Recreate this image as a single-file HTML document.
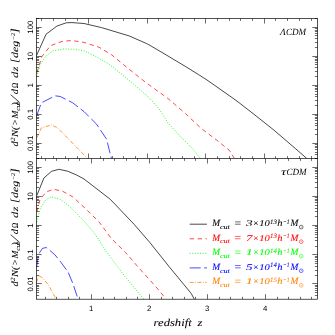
<!DOCTYPE html>
<html><head><meta charset="utf-8"><style>
html,body{margin:0;padding:0;background:#fff;}
svg{display:block;text-rendering:geometricPrecision;will-change:transform;font-family:"Liberation Sans",sans-serif;}
</style></head><body>
<svg width="335" height="335" viewBox="0 0 335 335">

<clipPath id="ct"><rect x="36.5" y="18.5" width="281.0" height="140.0"/></clipPath>
<clipPath id="cb"><rect x="36.5" y="158.5" width="281.0" height="140.7"/></clipPath>
<path d="M36.5,55.5 L46.1,34.2 L56.9,26.1 L66.2,22.8 L72.0,22.6 L84.0,23.5 L101.5,27.6 L129.1,35.9 L146.7,43.6 L150.0,45.4 L168.0,56.0 L185.8,66.7 L198.4,74.5 L207.0,80.0 L222.0,90.5 L237.0,101.1 L255.0,115.1 L274.0,130.2 L295.8,148.9 L306.8,158.5" fill="none" stroke="#000" stroke-width="0.72" clip-path="url(#ct)"/>
<path d="M36.8,72.7 L41.8,56.8 L50.5,45.7 L62.0,41.4 L72.0,40.5 L84.0,42.4 L99.0,47.2 L111.6,54.8 L126.6,67.2 L145.4,82.2 L168.0,98.5 L185.5,113.6 L200.6,127.9 L218.1,141.2 L229.4,150.4 L234.4,158.5" fill="none" stroke="#ff0000" stroke-width="0.72" stroke-dasharray="4.4 3.5" clip-path="url(#ct)"/>
<path d="M36.8,76.5 L40.3,64.3 L45.6,56.3 L53.0,50.8 L64.0,49.0 L74.0,49.3 L84.0,50.8 L96.5,56.8 L109.1,64.2 L121.6,74.0 L132.9,83.6 L149.2,97.8 L159.2,109.1 L168.0,122.9 L180.5,136.6 L193.1,149.2 L200.4,158.5" fill="none" stroke="#00ff00" stroke-width="0.95" stroke-dasharray="0.9 1.7" clip-path="url(#ct)"/>
<path d="M36.8,115.3 L41.4,102.8 L55.2,95.8 L60.2,96.5 L72.7,102.8 L84.0,111.6 L96.5,124.1 L106.6,139.2 L110.3,154.2 L111.6,158.5" fill="none" stroke="#0000ff" stroke-width="0.72" stroke-dasharray="11 3.5" clip-path="url(#ct)"/>
<path d="M36.8,137.9 L41.4,127.9 L51.4,124.9 L57.7,127.9 L67.7,138.2 L84.0,154.9 L87.5,158.5" fill="none" stroke="#ff8000" stroke-width="0.8" stroke-dasharray="4 1.5 0.8 1.5" clip-path="url(#ct)"/>
<path d="M36.8,195.6 L43.9,178.0 L51.4,171.4 L58.9,169.3 L67.7,171.2 L76.6,175.0 L84.0,179.0 L110.3,199.3 L134.2,224.4 L150.0,242.7 L169.1,266.6 L191.1,293.3 L194.3,299.2" fill="none" stroke="#000" stroke-width="0.72" clip-path="url(#cb)"/>
<path d="M36.8,211.9 L40.1,199.3 L46.4,191.8 L53.9,189.3 L62.7,191.3 L72.7,196.8 L84.0,207.2 L99.0,221.9 L111.6,238.8 L125.4,252.3 L139.2,268.3 L151.7,282.1 L160.5,292.1 L166.0,299.2" fill="none" stroke="#ff0000" stroke-width="0.72" stroke-dasharray="4.4 3.5" clip-path="url(#cb)"/>
<path d="M36.8,221.9 L40.1,209.4 L45.1,200.6 L51.4,196.8 L60.2,199.3 L70.2,206.9 L84.0,221.0 L94.4,233.2 L106.2,251.5 L116.6,265.4 L125.4,277.0 L134.2,287.6 L143.8,299.2" fill="none" stroke="#00ff00" stroke-width="0.95" stroke-dasharray="0.9 1.7" clip-path="url(#cb)"/>
<path d="M36.5,267.5 L38.6,254.2 L42.4,248.4 L46.2,247.5 L49.1,249.8 L54.8,254.7 L60.6,261.8 L68.2,272.3 L73.0,283.8 L77.4,297.1 L78.1,299.2" fill="none" stroke="#0000ff" stroke-width="0.72" stroke-dasharray="11 3.5" clip-path="url(#cb)"/>
<path d="M36.5,282.5 L38.6,275.7 L41.5,277.1 L47.7,283.8 L52.6,292.4 L56.1,299.2" fill="none" stroke="#ff8000" stroke-width="0.8" stroke-dasharray="4 1.5 0.8 1.5" clip-path="url(#cb)"/>
<rect x="36.5" y="18.5" width="281.0" height="280.7" fill="none" stroke="#000" stroke-width="0.68"/>
<line x1="36.5" y1="158.5" x2="317.5" y2="158.5" stroke="#000" stroke-width="0.68"/>
<line x1="41.50" y1="18.50" x2="41.50" y2="20.90" stroke="#000" stroke-width="0.58"/>
<line x1="41.50" y1="158.50" x2="41.50" y2="156.10" stroke="#000" stroke-width="0.58"/>
<line x1="53.50" y1="18.50" x2="53.50" y2="20.90" stroke="#000" stroke-width="0.58"/>
<line x1="53.50" y1="158.50" x2="53.50" y2="156.10" stroke="#000" stroke-width="0.58"/>
<line x1="65.50" y1="18.50" x2="65.50" y2="20.90" stroke="#000" stroke-width="0.58"/>
<line x1="65.50" y1="158.50" x2="65.50" y2="156.10" stroke="#000" stroke-width="0.58"/>
<line x1="77.50" y1="18.50" x2="77.50" y2="20.90" stroke="#000" stroke-width="0.58"/>
<line x1="77.50" y1="158.50" x2="77.50" y2="156.10" stroke="#000" stroke-width="0.58"/>
<line x1="88.50" y1="18.50" x2="88.50" y2="23.50" stroke="#000" stroke-width="0.58"/>
<line x1="88.50" y1="158.50" x2="88.50" y2="153.50" stroke="#000" stroke-width="0.58"/>
<line x1="100.50" y1="18.50" x2="100.50" y2="20.90" stroke="#000" stroke-width="0.58"/>
<line x1="100.50" y1="158.50" x2="100.50" y2="156.10" stroke="#000" stroke-width="0.58"/>
<line x1="112.50" y1="18.50" x2="112.50" y2="20.90" stroke="#000" stroke-width="0.58"/>
<line x1="112.50" y1="158.50" x2="112.50" y2="156.10" stroke="#000" stroke-width="0.58"/>
<line x1="123.50" y1="18.50" x2="123.50" y2="20.90" stroke="#000" stroke-width="0.58"/>
<line x1="123.50" y1="158.50" x2="123.50" y2="156.10" stroke="#000" stroke-width="0.58"/>
<line x1="135.50" y1="18.50" x2="135.50" y2="20.90" stroke="#000" stroke-width="0.58"/>
<line x1="135.50" y1="158.50" x2="135.50" y2="156.10" stroke="#000" stroke-width="0.58"/>
<line x1="147.50" y1="18.50" x2="147.50" y2="23.50" stroke="#000" stroke-width="0.58"/>
<line x1="147.50" y1="158.50" x2="147.50" y2="153.50" stroke="#000" stroke-width="0.58"/>
<line x1="158.50" y1="18.50" x2="158.50" y2="20.90" stroke="#000" stroke-width="0.58"/>
<line x1="158.50" y1="158.50" x2="158.50" y2="156.10" stroke="#000" stroke-width="0.58"/>
<line x1="170.50" y1="18.50" x2="170.50" y2="20.90" stroke="#000" stroke-width="0.58"/>
<line x1="170.50" y1="158.50" x2="170.50" y2="156.10" stroke="#000" stroke-width="0.58"/>
<line x1="182.50" y1="18.50" x2="182.50" y2="20.90" stroke="#000" stroke-width="0.58"/>
<line x1="182.50" y1="158.50" x2="182.50" y2="156.10" stroke="#000" stroke-width="0.58"/>
<line x1="194.50" y1="18.50" x2="194.50" y2="20.90" stroke="#000" stroke-width="0.58"/>
<line x1="194.50" y1="158.50" x2="194.50" y2="156.10" stroke="#000" stroke-width="0.58"/>
<line x1="205.50" y1="18.50" x2="205.50" y2="23.50" stroke="#000" stroke-width="0.58"/>
<line x1="205.50" y1="158.50" x2="205.50" y2="153.50" stroke="#000" stroke-width="0.58"/>
<line x1="217.50" y1="18.50" x2="217.50" y2="20.90" stroke="#000" stroke-width="0.58"/>
<line x1="217.50" y1="158.50" x2="217.50" y2="156.10" stroke="#000" stroke-width="0.58"/>
<line x1="229.50" y1="18.50" x2="229.50" y2="20.90" stroke="#000" stroke-width="0.58"/>
<line x1="229.50" y1="158.50" x2="229.50" y2="156.10" stroke="#000" stroke-width="0.58"/>
<line x1="240.50" y1="18.50" x2="240.50" y2="20.90" stroke="#000" stroke-width="0.58"/>
<line x1="240.50" y1="158.50" x2="240.50" y2="156.10" stroke="#000" stroke-width="0.58"/>
<line x1="252.50" y1="18.50" x2="252.50" y2="20.90" stroke="#000" stroke-width="0.58"/>
<line x1="252.50" y1="158.50" x2="252.50" y2="156.10" stroke="#000" stroke-width="0.58"/>
<line x1="264.50" y1="18.50" x2="264.50" y2="23.50" stroke="#000" stroke-width="0.58"/>
<line x1="264.50" y1="158.50" x2="264.50" y2="153.50" stroke="#000" stroke-width="0.58"/>
<line x1="275.50" y1="18.50" x2="275.50" y2="20.90" stroke="#000" stroke-width="0.58"/>
<line x1="275.50" y1="158.50" x2="275.50" y2="156.10" stroke="#000" stroke-width="0.58"/>
<line x1="287.50" y1="18.50" x2="287.50" y2="20.90" stroke="#000" stroke-width="0.58"/>
<line x1="287.50" y1="158.50" x2="287.50" y2="156.10" stroke="#000" stroke-width="0.58"/>
<line x1="299.50" y1="18.50" x2="299.50" y2="20.90" stroke="#000" stroke-width="0.58"/>
<line x1="299.50" y1="158.50" x2="299.50" y2="156.10" stroke="#000" stroke-width="0.58"/>
<line x1="311.50" y1="18.50" x2="311.50" y2="20.90" stroke="#000" stroke-width="0.58"/>
<line x1="311.50" y1="158.50" x2="311.50" y2="156.10" stroke="#000" stroke-width="0.58"/>
<line x1="45.50" y1="158.50" x2="45.50" y2="160.90" stroke="#000" stroke-width="0.58"/>
<line x1="45.50" y1="299.20" x2="45.50" y2="296.80" stroke="#000" stroke-width="0.58"/>
<line x1="56.50" y1="158.50" x2="56.50" y2="160.90" stroke="#000" stroke-width="0.58"/>
<line x1="56.50" y1="299.20" x2="56.50" y2="296.80" stroke="#000" stroke-width="0.58"/>
<line x1="68.50" y1="158.50" x2="68.50" y2="160.90" stroke="#000" stroke-width="0.58"/>
<line x1="68.50" y1="299.20" x2="68.50" y2="296.80" stroke="#000" stroke-width="0.58"/>
<line x1="79.50" y1="158.50" x2="79.50" y2="160.90" stroke="#000" stroke-width="0.58"/>
<line x1="79.50" y1="299.20" x2="79.50" y2="296.80" stroke="#000" stroke-width="0.58"/>
<line x1="91.50" y1="158.50" x2="91.50" y2="163.50" stroke="#000" stroke-width="0.58"/>
<line x1="91.50" y1="299.20" x2="91.50" y2="294.20" stroke="#000" stroke-width="0.58"/>
<line x1="103.50" y1="158.50" x2="103.50" y2="160.90" stroke="#000" stroke-width="0.58"/>
<line x1="103.50" y1="299.20" x2="103.50" y2="296.80" stroke="#000" stroke-width="0.58"/>
<line x1="114.50" y1="158.50" x2="114.50" y2="160.90" stroke="#000" stroke-width="0.58"/>
<line x1="114.50" y1="299.20" x2="114.50" y2="296.80" stroke="#000" stroke-width="0.58"/>
<line x1="126.50" y1="158.50" x2="126.50" y2="160.90" stroke="#000" stroke-width="0.58"/>
<line x1="126.50" y1="299.20" x2="126.50" y2="296.80" stroke="#000" stroke-width="0.58"/>
<line x1="137.50" y1="158.50" x2="137.50" y2="160.90" stroke="#000" stroke-width="0.58"/>
<line x1="137.50" y1="299.20" x2="137.50" y2="296.80" stroke="#000" stroke-width="0.58"/>
<line x1="149.50" y1="158.50" x2="149.50" y2="163.50" stroke="#000" stroke-width="0.58"/>
<line x1="149.50" y1="299.20" x2="149.50" y2="294.20" stroke="#000" stroke-width="0.58"/>
<line x1="161.50" y1="158.50" x2="161.50" y2="160.90" stroke="#000" stroke-width="0.58"/>
<line x1="161.50" y1="299.20" x2="161.50" y2="296.80" stroke="#000" stroke-width="0.58"/>
<line x1="172.50" y1="158.50" x2="172.50" y2="160.90" stroke="#000" stroke-width="0.58"/>
<line x1="172.50" y1="299.20" x2="172.50" y2="296.80" stroke="#000" stroke-width="0.58"/>
<line x1="184.50" y1="158.50" x2="184.50" y2="160.90" stroke="#000" stroke-width="0.58"/>
<line x1="184.50" y1="299.20" x2="184.50" y2="296.80" stroke="#000" stroke-width="0.58"/>
<line x1="195.50" y1="158.50" x2="195.50" y2="160.90" stroke="#000" stroke-width="0.58"/>
<line x1="195.50" y1="299.20" x2="195.50" y2="296.80" stroke="#000" stroke-width="0.58"/>
<line x1="207.50" y1="158.50" x2="207.50" y2="163.50" stroke="#000" stroke-width="0.58"/>
<line x1="207.50" y1="299.20" x2="207.50" y2="294.20" stroke="#000" stroke-width="0.58"/>
<line x1="219.50" y1="158.50" x2="219.50" y2="160.90" stroke="#000" stroke-width="0.58"/>
<line x1="219.50" y1="299.20" x2="219.50" y2="296.80" stroke="#000" stroke-width="0.58"/>
<line x1="230.50" y1="158.50" x2="230.50" y2="160.90" stroke="#000" stroke-width="0.58"/>
<line x1="230.50" y1="299.20" x2="230.50" y2="296.80" stroke="#000" stroke-width="0.58"/>
<line x1="242.50" y1="158.50" x2="242.50" y2="160.90" stroke="#000" stroke-width="0.58"/>
<line x1="242.50" y1="299.20" x2="242.50" y2="296.80" stroke="#000" stroke-width="0.58"/>
<line x1="253.50" y1="158.50" x2="253.50" y2="160.90" stroke="#000" stroke-width="0.58"/>
<line x1="253.50" y1="299.20" x2="253.50" y2="296.80" stroke="#000" stroke-width="0.58"/>
<line x1="265.50" y1="158.50" x2="265.50" y2="163.50" stroke="#000" stroke-width="0.58"/>
<line x1="265.50" y1="299.20" x2="265.50" y2="294.20" stroke="#000" stroke-width="0.58"/>
<line x1="277.50" y1="158.50" x2="277.50" y2="160.90" stroke="#000" stroke-width="0.58"/>
<line x1="277.50" y1="299.20" x2="277.50" y2="296.80" stroke="#000" stroke-width="0.58"/>
<line x1="288.50" y1="158.50" x2="288.50" y2="160.90" stroke="#000" stroke-width="0.58"/>
<line x1="288.50" y1="299.20" x2="288.50" y2="296.80" stroke="#000" stroke-width="0.58"/>
<line x1="300.50" y1="158.50" x2="300.50" y2="160.90" stroke="#000" stroke-width="0.58"/>
<line x1="300.50" y1="299.20" x2="300.50" y2="296.80" stroke="#000" stroke-width="0.58"/>
<line x1="311.50" y1="158.50" x2="311.50" y2="160.90" stroke="#000" stroke-width="0.58"/>
<line x1="311.50" y1="299.20" x2="311.50" y2="296.80" stroke="#000" stroke-width="0.58"/>
<line x1="36.50" y1="158.50" x2="39.10" y2="158.50" stroke="#000" stroke-width="0.58"/>
<line x1="317.50" y1="158.50" x2="314.90" y2="158.50" stroke="#000" stroke-width="0.58"/>
<line x1="36.50" y1="154.50" x2="39.10" y2="154.50" stroke="#000" stroke-width="0.58"/>
<line x1="317.50" y1="154.50" x2="314.90" y2="154.50" stroke="#000" stroke-width="0.58"/>
<line x1="36.50" y1="152.50" x2="39.10" y2="152.50" stroke="#000" stroke-width="0.58"/>
<line x1="317.50" y1="152.50" x2="314.90" y2="152.50" stroke="#000" stroke-width="0.58"/>
<line x1="36.50" y1="149.50" x2="39.10" y2="149.50" stroke="#000" stroke-width="0.58"/>
<line x1="317.50" y1="149.50" x2="314.90" y2="149.50" stroke="#000" stroke-width="0.58"/>
<line x1="36.50" y1="147.50" x2="39.10" y2="147.50" stroke="#000" stroke-width="0.58"/>
<line x1="317.50" y1="147.50" x2="314.90" y2="147.50" stroke="#000" stroke-width="0.58"/>
<line x1="36.50" y1="146.50" x2="39.10" y2="146.50" stroke="#000" stroke-width="0.58"/>
<line x1="317.50" y1="146.50" x2="314.90" y2="146.50" stroke="#000" stroke-width="0.58"/>
<line x1="36.50" y1="144.50" x2="39.10" y2="144.50" stroke="#000" stroke-width="0.58"/>
<line x1="317.50" y1="144.50" x2="314.90" y2="144.50" stroke="#000" stroke-width="0.58"/>
<line x1="36.50" y1="143.50" x2="41.70" y2="143.50" stroke="#000" stroke-width="0.58"/>
<line x1="317.50" y1="143.50" x2="312.30" y2="143.50" stroke="#000" stroke-width="0.58"/>
<line x1="36.50" y1="134.50" x2="39.10" y2="134.50" stroke="#000" stroke-width="0.58"/>
<line x1="317.50" y1="134.50" x2="314.90" y2="134.50" stroke="#000" stroke-width="0.58"/>
<line x1="36.50" y1="129.50" x2="39.10" y2="129.50" stroke="#000" stroke-width="0.58"/>
<line x1="317.50" y1="129.50" x2="314.90" y2="129.50" stroke="#000" stroke-width="0.58"/>
<line x1="36.50" y1="125.50" x2="39.10" y2="125.50" stroke="#000" stroke-width="0.58"/>
<line x1="317.50" y1="125.50" x2="314.90" y2="125.50" stroke="#000" stroke-width="0.58"/>
<line x1="36.50" y1="123.50" x2="39.10" y2="123.50" stroke="#000" stroke-width="0.58"/>
<line x1="317.50" y1="123.50" x2="314.90" y2="123.50" stroke="#000" stroke-width="0.58"/>
<line x1="36.50" y1="120.50" x2="39.10" y2="120.50" stroke="#000" stroke-width="0.58"/>
<line x1="317.50" y1="120.50" x2="314.90" y2="120.50" stroke="#000" stroke-width="0.58"/>
<line x1="36.50" y1="118.50" x2="39.10" y2="118.50" stroke="#000" stroke-width="0.58"/>
<line x1="317.50" y1="118.50" x2="314.90" y2="118.50" stroke="#000" stroke-width="0.58"/>
<line x1="36.50" y1="117.50" x2="39.10" y2="117.50" stroke="#000" stroke-width="0.58"/>
<line x1="317.50" y1="117.50" x2="314.90" y2="117.50" stroke="#000" stroke-width="0.58"/>
<line x1="36.50" y1="115.50" x2="39.10" y2="115.50" stroke="#000" stroke-width="0.58"/>
<line x1="317.50" y1="115.50" x2="314.90" y2="115.50" stroke="#000" stroke-width="0.58"/>
<line x1="36.50" y1="114.50" x2="41.70" y2="114.50" stroke="#000" stroke-width="0.58"/>
<line x1="317.50" y1="114.50" x2="312.30" y2="114.50" stroke="#000" stroke-width="0.58"/>
<line x1="36.50" y1="105.50" x2="39.10" y2="105.50" stroke="#000" stroke-width="0.58"/>
<line x1="317.50" y1="105.50" x2="314.90" y2="105.50" stroke="#000" stroke-width="0.58"/>
<line x1="36.50" y1="100.50" x2="39.10" y2="100.50" stroke="#000" stroke-width="0.58"/>
<line x1="317.50" y1="100.50" x2="314.90" y2="100.50" stroke="#000" stroke-width="0.58"/>
<line x1="36.50" y1="96.50" x2="39.10" y2="96.50" stroke="#000" stroke-width="0.58"/>
<line x1="317.50" y1="96.50" x2="314.90" y2="96.50" stroke="#000" stroke-width="0.58"/>
<line x1="36.50" y1="94.50" x2="39.10" y2="94.50" stroke="#000" stroke-width="0.58"/>
<line x1="317.50" y1="94.50" x2="314.90" y2="94.50" stroke="#000" stroke-width="0.58"/>
<line x1="36.50" y1="91.50" x2="39.10" y2="91.50" stroke="#000" stroke-width="0.58"/>
<line x1="317.50" y1="91.50" x2="314.90" y2="91.50" stroke="#000" stroke-width="0.58"/>
<line x1="36.50" y1="89.50" x2="39.10" y2="89.50" stroke="#000" stroke-width="0.58"/>
<line x1="317.50" y1="89.50" x2="314.90" y2="89.50" stroke="#000" stroke-width="0.58"/>
<line x1="36.50" y1="88.50" x2="39.10" y2="88.50" stroke="#000" stroke-width="0.58"/>
<line x1="317.50" y1="88.50" x2="314.90" y2="88.50" stroke="#000" stroke-width="0.58"/>
<line x1="36.50" y1="86.50" x2="39.10" y2="86.50" stroke="#000" stroke-width="0.58"/>
<line x1="317.50" y1="86.50" x2="314.90" y2="86.50" stroke="#000" stroke-width="0.58"/>
<line x1="36.50" y1="85.50" x2="41.70" y2="85.50" stroke="#000" stroke-width="0.58"/>
<line x1="317.50" y1="85.50" x2="312.30" y2="85.50" stroke="#000" stroke-width="0.58"/>
<line x1="36.50" y1="76.50" x2="39.10" y2="76.50" stroke="#000" stroke-width="0.58"/>
<line x1="317.50" y1="76.50" x2="314.90" y2="76.50" stroke="#000" stroke-width="0.58"/>
<line x1="36.50" y1="71.50" x2="39.10" y2="71.50" stroke="#000" stroke-width="0.58"/>
<line x1="317.50" y1="71.50" x2="314.90" y2="71.50" stroke="#000" stroke-width="0.58"/>
<line x1="36.50" y1="67.50" x2="39.10" y2="67.50" stroke="#000" stroke-width="0.58"/>
<line x1="317.50" y1="67.50" x2="314.90" y2="67.50" stroke="#000" stroke-width="0.58"/>
<line x1="36.50" y1="64.50" x2="39.10" y2="64.50" stroke="#000" stroke-width="0.58"/>
<line x1="317.50" y1="64.50" x2="314.90" y2="64.50" stroke="#000" stroke-width="0.58"/>
<line x1="36.50" y1="62.50" x2="39.10" y2="62.50" stroke="#000" stroke-width="0.58"/>
<line x1="317.50" y1="62.50" x2="314.90" y2="62.50" stroke="#000" stroke-width="0.58"/>
<line x1="36.50" y1="60.50" x2="39.10" y2="60.50" stroke="#000" stroke-width="0.58"/>
<line x1="317.50" y1="60.50" x2="314.90" y2="60.50" stroke="#000" stroke-width="0.58"/>
<line x1="36.50" y1="59.50" x2="39.10" y2="59.50" stroke="#000" stroke-width="0.58"/>
<line x1="317.50" y1="59.50" x2="314.90" y2="59.50" stroke="#000" stroke-width="0.58"/>
<line x1="36.50" y1="57.50" x2="39.10" y2="57.50" stroke="#000" stroke-width="0.58"/>
<line x1="317.50" y1="57.50" x2="314.90" y2="57.50" stroke="#000" stroke-width="0.58"/>
<line x1="36.50" y1="56.50" x2="41.70" y2="56.50" stroke="#000" stroke-width="0.58"/>
<line x1="317.50" y1="56.50" x2="312.30" y2="56.50" stroke="#000" stroke-width="0.58"/>
<line x1="36.50" y1="47.50" x2="39.10" y2="47.50" stroke="#000" stroke-width="0.58"/>
<line x1="317.50" y1="47.50" x2="314.90" y2="47.50" stroke="#000" stroke-width="0.58"/>
<line x1="36.50" y1="42.50" x2="39.10" y2="42.50" stroke="#000" stroke-width="0.58"/>
<line x1="317.50" y1="42.50" x2="314.90" y2="42.50" stroke="#000" stroke-width="0.58"/>
<line x1="36.50" y1="38.50" x2="39.10" y2="38.50" stroke="#000" stroke-width="0.58"/>
<line x1="317.50" y1="38.50" x2="314.90" y2="38.50" stroke="#000" stroke-width="0.58"/>
<line x1="36.50" y1="35.50" x2="39.10" y2="35.50" stroke="#000" stroke-width="0.58"/>
<line x1="317.50" y1="35.50" x2="314.90" y2="35.50" stroke="#000" stroke-width="0.58"/>
<line x1="36.50" y1="33.50" x2="39.10" y2="33.50" stroke="#000" stroke-width="0.58"/>
<line x1="317.50" y1="33.50" x2="314.90" y2="33.50" stroke="#000" stroke-width="0.58"/>
<line x1="36.50" y1="31.50" x2="39.10" y2="31.50" stroke="#000" stroke-width="0.58"/>
<line x1="317.50" y1="31.50" x2="314.90" y2="31.50" stroke="#000" stroke-width="0.58"/>
<line x1="36.50" y1="30.50" x2="39.10" y2="30.50" stroke="#000" stroke-width="0.58"/>
<line x1="317.50" y1="30.50" x2="314.90" y2="30.50" stroke="#000" stroke-width="0.58"/>
<line x1="36.50" y1="28.50" x2="39.10" y2="28.50" stroke="#000" stroke-width="0.58"/>
<line x1="317.50" y1="28.50" x2="314.90" y2="28.50" stroke="#000" stroke-width="0.58"/>
<line x1="36.50" y1="27.50" x2="41.70" y2="27.50" stroke="#000" stroke-width="0.58"/>
<line x1="317.50" y1="27.50" x2="312.30" y2="27.50" stroke="#000" stroke-width="0.58"/>
<line x1="36.50" y1="18.50" x2="39.10" y2="18.50" stroke="#000" stroke-width="0.58"/>
<line x1="317.50" y1="18.50" x2="314.90" y2="18.50" stroke="#000" stroke-width="0.58"/>
<line x1="36.50" y1="295.50" x2="39.10" y2="295.50" stroke="#000" stroke-width="0.58"/>
<line x1="317.50" y1="295.50" x2="314.90" y2="295.50" stroke="#000" stroke-width="0.58"/>
<line x1="36.50" y1="292.50" x2="39.10" y2="292.50" stroke="#000" stroke-width="0.58"/>
<line x1="317.50" y1="292.50" x2="314.90" y2="292.50" stroke="#000" stroke-width="0.58"/>
<line x1="36.50" y1="290.50" x2="39.10" y2="290.50" stroke="#000" stroke-width="0.58"/>
<line x1="317.50" y1="290.50" x2="314.90" y2="290.50" stroke="#000" stroke-width="0.58"/>
<line x1="36.50" y1="288.50" x2="39.10" y2="288.50" stroke="#000" stroke-width="0.58"/>
<line x1="317.50" y1="288.50" x2="314.90" y2="288.50" stroke="#000" stroke-width="0.58"/>
<line x1="36.50" y1="286.50" x2="39.10" y2="286.50" stroke="#000" stroke-width="0.58"/>
<line x1="317.50" y1="286.50" x2="314.90" y2="286.50" stroke="#000" stroke-width="0.58"/>
<line x1="36.50" y1="285.50" x2="39.10" y2="285.50" stroke="#000" stroke-width="0.58"/>
<line x1="317.50" y1="285.50" x2="314.90" y2="285.50" stroke="#000" stroke-width="0.58"/>
<line x1="36.50" y1="283.50" x2="41.70" y2="283.50" stroke="#000" stroke-width="0.58"/>
<line x1="317.50" y1="283.50" x2="312.30" y2="283.50" stroke="#000" stroke-width="0.58"/>
<line x1="36.50" y1="275.50" x2="39.10" y2="275.50" stroke="#000" stroke-width="0.58"/>
<line x1="317.50" y1="275.50" x2="314.90" y2="275.50" stroke="#000" stroke-width="0.58"/>
<line x1="36.50" y1="270.50" x2="39.10" y2="270.50" stroke="#000" stroke-width="0.58"/>
<line x1="317.50" y1="270.50" x2="314.90" y2="270.50" stroke="#000" stroke-width="0.58"/>
<line x1="36.50" y1="266.50" x2="39.10" y2="266.50" stroke="#000" stroke-width="0.58"/>
<line x1="317.50" y1="266.50" x2="314.90" y2="266.50" stroke="#000" stroke-width="0.58"/>
<line x1="36.50" y1="263.50" x2="39.10" y2="263.50" stroke="#000" stroke-width="0.58"/>
<line x1="317.50" y1="263.50" x2="314.90" y2="263.50" stroke="#000" stroke-width="0.58"/>
<line x1="36.50" y1="261.50" x2="39.10" y2="261.50" stroke="#000" stroke-width="0.58"/>
<line x1="317.50" y1="261.50" x2="314.90" y2="261.50" stroke="#000" stroke-width="0.58"/>
<line x1="36.50" y1="259.50" x2="39.10" y2="259.50" stroke="#000" stroke-width="0.58"/>
<line x1="317.50" y1="259.50" x2="314.90" y2="259.50" stroke="#000" stroke-width="0.58"/>
<line x1="36.50" y1="257.50" x2="39.10" y2="257.50" stroke="#000" stroke-width="0.58"/>
<line x1="317.50" y1="257.50" x2="314.90" y2="257.50" stroke="#000" stroke-width="0.58"/>
<line x1="36.50" y1="256.50" x2="39.10" y2="256.50" stroke="#000" stroke-width="0.58"/>
<line x1="317.50" y1="256.50" x2="314.90" y2="256.50" stroke="#000" stroke-width="0.58"/>
<line x1="36.50" y1="254.50" x2="41.70" y2="254.50" stroke="#000" stroke-width="0.58"/>
<line x1="317.50" y1="254.50" x2="312.30" y2="254.50" stroke="#000" stroke-width="0.58"/>
<line x1="36.50" y1="246.50" x2="39.10" y2="246.50" stroke="#000" stroke-width="0.58"/>
<line x1="317.50" y1="246.50" x2="314.90" y2="246.50" stroke="#000" stroke-width="0.58"/>
<line x1="36.50" y1="240.50" x2="39.10" y2="240.50" stroke="#000" stroke-width="0.58"/>
<line x1="317.50" y1="240.50" x2="314.90" y2="240.50" stroke="#000" stroke-width="0.58"/>
<line x1="36.50" y1="237.50" x2="39.10" y2="237.50" stroke="#000" stroke-width="0.58"/>
<line x1="317.50" y1="237.50" x2="314.90" y2="237.50" stroke="#000" stroke-width="0.58"/>
<line x1="36.50" y1="234.50" x2="39.10" y2="234.50" stroke="#000" stroke-width="0.58"/>
<line x1="317.50" y1="234.50" x2="314.90" y2="234.50" stroke="#000" stroke-width="0.58"/>
<line x1="36.50" y1="232.50" x2="39.10" y2="232.50" stroke="#000" stroke-width="0.58"/>
<line x1="317.50" y1="232.50" x2="314.90" y2="232.50" stroke="#000" stroke-width="0.58"/>
<line x1="36.50" y1="230.50" x2="39.10" y2="230.50" stroke="#000" stroke-width="0.58"/>
<line x1="317.50" y1="230.50" x2="314.90" y2="230.50" stroke="#000" stroke-width="0.58"/>
<line x1="36.50" y1="228.50" x2="39.10" y2="228.50" stroke="#000" stroke-width="0.58"/>
<line x1="317.50" y1="228.50" x2="314.90" y2="228.50" stroke="#000" stroke-width="0.58"/>
<line x1="36.50" y1="226.50" x2="39.10" y2="226.50" stroke="#000" stroke-width="0.58"/>
<line x1="317.50" y1="226.50" x2="314.90" y2="226.50" stroke="#000" stroke-width="0.58"/>
<line x1="36.50" y1="225.50" x2="41.70" y2="225.50" stroke="#000" stroke-width="0.58"/>
<line x1="317.50" y1="225.50" x2="312.30" y2="225.50" stroke="#000" stroke-width="0.58"/>
<line x1="36.50" y1="216.50" x2="39.10" y2="216.50" stroke="#000" stroke-width="0.58"/>
<line x1="317.50" y1="216.50" x2="314.90" y2="216.50" stroke="#000" stroke-width="0.58"/>
<line x1="36.50" y1="211.50" x2="39.10" y2="211.50" stroke="#000" stroke-width="0.58"/>
<line x1="317.50" y1="211.50" x2="314.90" y2="211.50" stroke="#000" stroke-width="0.58"/>
<line x1="36.50" y1="208.50" x2="39.10" y2="208.50" stroke="#000" stroke-width="0.58"/>
<line x1="317.50" y1="208.50" x2="314.90" y2="208.50" stroke="#000" stroke-width="0.58"/>
<line x1="36.50" y1="205.50" x2="39.10" y2="205.50" stroke="#000" stroke-width="0.58"/>
<line x1="317.50" y1="205.50" x2="314.90" y2="205.50" stroke="#000" stroke-width="0.58"/>
<line x1="36.50" y1="202.50" x2="39.10" y2="202.50" stroke="#000" stroke-width="0.58"/>
<line x1="317.50" y1="202.50" x2="314.90" y2="202.50" stroke="#000" stroke-width="0.58"/>
<line x1="36.50" y1="200.50" x2="39.10" y2="200.50" stroke="#000" stroke-width="0.58"/>
<line x1="317.50" y1="200.50" x2="314.90" y2="200.50" stroke="#000" stroke-width="0.58"/>
<line x1="36.50" y1="199.50" x2="39.10" y2="199.50" stroke="#000" stroke-width="0.58"/>
<line x1="317.50" y1="199.50" x2="314.90" y2="199.50" stroke="#000" stroke-width="0.58"/>
<line x1="36.50" y1="197.50" x2="39.10" y2="197.50" stroke="#000" stroke-width="0.58"/>
<line x1="317.50" y1="197.50" x2="314.90" y2="197.50" stroke="#000" stroke-width="0.58"/>
<line x1="36.50" y1="196.50" x2="41.70" y2="196.50" stroke="#000" stroke-width="0.58"/>
<line x1="317.50" y1="196.50" x2="312.30" y2="196.50" stroke="#000" stroke-width="0.58"/>
<line x1="36.50" y1="187.50" x2="39.10" y2="187.50" stroke="#000" stroke-width="0.58"/>
<line x1="317.50" y1="187.50" x2="314.90" y2="187.50" stroke="#000" stroke-width="0.58"/>
<line x1="36.50" y1="182.50" x2="39.10" y2="182.50" stroke="#000" stroke-width="0.58"/>
<line x1="317.50" y1="182.50" x2="314.90" y2="182.50" stroke="#000" stroke-width="0.58"/>
<line x1="36.50" y1="178.50" x2="39.10" y2="178.50" stroke="#000" stroke-width="0.58"/>
<line x1="317.50" y1="178.50" x2="314.90" y2="178.50" stroke="#000" stroke-width="0.58"/>
<line x1="36.50" y1="176.50" x2="39.10" y2="176.50" stroke="#000" stroke-width="0.58"/>
<line x1="317.50" y1="176.50" x2="314.90" y2="176.50" stroke="#000" stroke-width="0.58"/>
<line x1="36.50" y1="173.50" x2="39.10" y2="173.50" stroke="#000" stroke-width="0.58"/>
<line x1="317.50" y1="173.50" x2="314.90" y2="173.50" stroke="#000" stroke-width="0.58"/>
<line x1="36.50" y1="171.50" x2="39.10" y2="171.50" stroke="#000" stroke-width="0.58"/>
<line x1="317.50" y1="171.50" x2="314.90" y2="171.50" stroke="#000" stroke-width="0.58"/>
<line x1="36.50" y1="170.50" x2="39.10" y2="170.50" stroke="#000" stroke-width="0.58"/>
<line x1="317.50" y1="170.50" x2="314.90" y2="170.50" stroke="#000" stroke-width="0.58"/>
<line x1="36.50" y1="168.50" x2="39.10" y2="168.50" stroke="#000" stroke-width="0.58"/>
<line x1="317.50" y1="168.50" x2="314.90" y2="168.50" stroke="#000" stroke-width="0.58"/>
<line x1="36.50" y1="167.50" x2="41.70" y2="167.50" stroke="#000" stroke-width="0.58"/>
<line x1="317.50" y1="167.50" x2="312.30" y2="167.50" stroke="#000" stroke-width="0.58"/>
<line x1="36.50" y1="158.50" x2="39.10" y2="158.50" stroke="#000" stroke-width="0.58"/>
<line x1="317.50" y1="158.50" x2="314.90" y2="158.50" stroke="#000" stroke-width="0.58"/>
<text x="91.1" y="311.1" font-size="7.8" text-anchor="middle" font-family="Liberation Sans">1</text>
<text x="149.1" y="311.1" font-size="7.8" text-anchor="middle" font-family="Liberation Sans">2</text>
<text x="207.1" y="311.1" font-size="7.8" text-anchor="middle" font-family="Liberation Sans">3</text>
<text x="265.1" y="311.1" font-size="7.8" text-anchor="middle" font-family="Liberation Sans">4</text>
<text transform="translate(32.7,27.2) rotate(-90)" font-size="7.8" text-anchor="middle" font-family="Liberation Sans">100</text>
<text transform="translate(32.7,56.3) rotate(-90)" font-size="7.8" text-anchor="middle" font-family="Liberation Sans">10</text>
<text transform="translate(32.7,85.3) rotate(-90)" font-size="7.8" text-anchor="middle" font-family="Liberation Sans">1</text>
<text transform="translate(32.7,114.3) rotate(-90)" font-size="7.8" text-anchor="middle" font-family="Liberation Sans">0.1</text>
<text transform="translate(32.7,143.3) rotate(-90)" font-size="7.8" text-anchor="middle" font-family="Liberation Sans">0.01</text>
<text transform="translate(32.7,167.3) rotate(-90)" font-size="7.8" text-anchor="middle" font-family="Liberation Sans">100</text>
<text transform="translate(32.7,196.5) rotate(-90)" font-size="7.8" text-anchor="middle" font-family="Liberation Sans">10</text>
<text transform="translate(32.7,225.6) rotate(-90)" font-size="7.8" text-anchor="middle" font-family="Liberation Sans">1</text>
<text transform="translate(32.7,254.8) rotate(-90)" font-size="7.8" text-anchor="middle" font-family="Liberation Sans">0.1</text>
<text transform="translate(32.7,284.0) rotate(-90)" font-size="7.8" text-anchor="middle" font-family="Liberation Sans">0.01</text>
<text transform="translate(153.6,325.8) scale(1.2,1)" font-size="10.5" font-style="italic" font-family="Liberation Serif" stroke="#000" stroke-width="0.05">redshift</text>
<text transform="translate(197.6,325.8) scale(1.2,1)" font-size="10.5" font-style="italic" font-family="Liberation Serif" stroke="#000" stroke-width="0.05">z</text>
<g transform="translate(17.7,146.5) rotate(-90) scale(1,0.88)" font-style="italic" font-family="Liberation Serif" stroke="#000" stroke-width="0.05">
<text x="0.1" y="0" font-size="10.5">d</text>
<text x="5.4" y="-3.1" font-size="7.2">2</text>
<text x="9.4" y="0" font-size="10.5">N</text>
<text x="16.5" y="0" font-size="10.5">(</text>
<text x="20.6" y="0" font-size="10.5">&gt;</text>
<text x="27.9" y="0" font-size="10.5" textLength="8.0" lengthAdjust="spacingAndGlyphs">M</text>
<text x="35.8" y="2.8" font-size="7.4">cut</text>
<text x="40.8" y="0" font-size="10.5">)</text>
<text x="52.2" y="0" font-size="10.5">d</text>
<text x="58.3" y="0" font-size="10.5" textLength="5.4" lengthAdjust="spacingAndGlyphs">Ω</text>
<text x="68.6" y="0" font-size="10.5" textLength="11.2" lengthAdjust="spacingAndGlyphs">dz</text>
<text x="83.6" y="0.8" font-size="12.0">[</text>
<text x="88.6" y="0" font-size="10.5" textLength="17.2" lengthAdjust="spacingAndGlyphs">deg</text>
<text x="106.3" y="-3.6" font-size="6.3">−2</text>
<text x="113.6" y="0.8" font-size="12.0">]</text>
<line x1="44.6" y1="1.6" x2="51.8" y2="-8.0" stroke="#000" stroke-width="0.8"/>
</g>
<g transform="translate(17.7,286.5) rotate(-90) scale(1,0.88)" font-style="italic" font-family="Liberation Serif" stroke="#000" stroke-width="0.05">
<text x="0.1" y="0" font-size="10.5">d</text>
<text x="5.4" y="-3.1" font-size="7.2">2</text>
<text x="9.4" y="0" font-size="10.5">N</text>
<text x="16.5" y="0" font-size="10.5">(</text>
<text x="20.6" y="0" font-size="10.5">&gt;</text>
<text x="27.9" y="0" font-size="10.5" textLength="8.0" lengthAdjust="spacingAndGlyphs">M</text>
<text x="35.8" y="2.8" font-size="7.4">cut</text>
<text x="40.8" y="0" font-size="10.5">)</text>
<text x="52.2" y="0" font-size="10.5">d</text>
<text x="58.3" y="0" font-size="10.5" textLength="5.4" lengthAdjust="spacingAndGlyphs">Ω</text>
<text x="68.6" y="0" font-size="10.5" textLength="11.2" lengthAdjust="spacingAndGlyphs">dz</text>
<text x="83.6" y="0.8" font-size="12.0">[</text>
<text x="88.6" y="0" font-size="10.5" textLength="17.2" lengthAdjust="spacingAndGlyphs">deg</text>
<text x="106.3" y="-3.6" font-size="6.3">−2</text>
<text x="113.6" y="0.8" font-size="12.0">]</text>
<line x1="44.6" y1="1.6" x2="51.8" y2="-8.0" stroke="#000" stroke-width="0.8"/>
</g>
<text x="279.9" y="34.7" font-size="9.6" font-style="italic" font-family="Liberation Serif" textLength="5.8" lengthAdjust="spacingAndGlyphs">Λ</text><text x="285.9" y="34.7" font-size="9.6" font-style="italic" font-family="Liberation Serif" textLength="20.2" lengthAdjust="spacingAndGlyphs">CDM</text>
<text x="281.0" y="174.7" font-size="9.6" font-style="italic" font-family="Liberation Serif" textLength="5.2" lengthAdjust="spacingAndGlyphs">τ</text><text x="286.4" y="174.7" font-size="9.6" font-style="italic" font-family="Liberation Serif" textLength="20.2" lengthAdjust="spacingAndGlyphs">CDM</text>
<path d="M189.7,224.2 L206.9,224.2" stroke="#000" stroke-width="0.72"/>
<g font-style="italic" font-family="Liberation Serif" fill="#000" stroke="#000" stroke-width="0.07">
<text x="212.2" y="226.10" font-size="9.4">M</text>
<text x="219.9" y="228.90" font-size="6.4" textLength="10.0" lengthAdjust="spacingAndGlyphs">cut</text>
<text x="245.9" y="226.10" font-size="8.8" textLength="6.6" lengthAdjust="spacingAndGlyphs">3</text>
<text x="252.4" y="226.10" font-size="8.8" textLength="6.6" lengthAdjust="spacingAndGlyphs">×</text>
<text x="259.2" y="226.10" font-size="8.8" textLength="10.6" lengthAdjust="spacingAndGlyphs">10</text>
<text x="270.0" y="223.70" font-size="6.6" textLength="6.9" lengthAdjust="spacingAndGlyphs">13</text>
<text x="277.3" y="226.10" font-size="9.4" textLength="5.3" lengthAdjust="spacingAndGlyphs">h</text>
<text x="283.0" y="223.70" font-size="6.6" textLength="6.4" lengthAdjust="spacingAndGlyphs">−1</text>
<text x="290.4" y="226.10" font-size="9.4">M</text>
</g>
<path d="M235.1,221.90 h5.5 M235.1,224.20 h5.5" stroke="#000" stroke-width="0.6" fill="none"/>
<circle cx="301.2" cy="227.10" r="1.85" fill="none" stroke="#000" stroke-width="0.55"/><circle cx="301.2" cy="227.10" r="0.45" fill="#000"/>
<path d="M189.7,238.8 L206.9,238.8" stroke="#ff0000" stroke-width="0.72" stroke-dasharray="4.4 3.5"/>
<g font-style="italic" font-family="Liberation Serif" fill="#ff0000" stroke="#ff0000" stroke-width="0.07">
<text x="212.2" y="240.65" font-size="9.4">M</text>
<text x="219.9" y="243.45" font-size="6.4" textLength="10.0" lengthAdjust="spacingAndGlyphs">cut</text>
<text x="245.9" y="240.65" font-size="8.8" textLength="6.6" lengthAdjust="spacingAndGlyphs">7</text>
<text x="252.4" y="240.65" font-size="8.8" textLength="6.6" lengthAdjust="spacingAndGlyphs">×</text>
<text x="259.2" y="240.65" font-size="8.8" textLength="10.6" lengthAdjust="spacingAndGlyphs">10</text>
<text x="270.0" y="238.25" font-size="6.6" textLength="6.9" lengthAdjust="spacingAndGlyphs">13</text>
<text x="277.3" y="240.65" font-size="9.4" textLength="5.3" lengthAdjust="spacingAndGlyphs">h</text>
<text x="283.0" y="238.25" font-size="6.6" textLength="6.4" lengthAdjust="spacingAndGlyphs">−1</text>
<text x="290.4" y="240.65" font-size="9.4">M</text>
</g>
<path d="M235.1,236.45 h5.5 M235.1,238.75 h5.5" stroke="#ff0000" stroke-width="0.6" fill="none"/>
<circle cx="301.2" cy="241.65" r="1.85" fill="none" stroke="#ff0000" stroke-width="0.55"/><circle cx="301.2" cy="241.65" r="0.45" fill="#ff0000"/>
<path d="M189.7,253.3 L206.9,253.3" stroke="#00ff00" stroke-width="0.95" stroke-dasharray="0.9 1.7"/>
<g font-style="italic" font-family="Liberation Serif" fill="#00ff00" stroke="#00ff00" stroke-width="0.07">
<text x="212.2" y="255.20" font-size="9.4">M</text>
<text x="219.9" y="258.00" font-size="6.4" textLength="10.0" lengthAdjust="spacingAndGlyphs">cut</text>
<text x="245.9" y="255.20" font-size="8.8" textLength="6.6" lengthAdjust="spacingAndGlyphs">1</text>
<text x="252.4" y="255.20" font-size="8.8" textLength="6.6" lengthAdjust="spacingAndGlyphs">×</text>
<text x="259.2" y="255.20" font-size="8.8" textLength="10.6" lengthAdjust="spacingAndGlyphs">10</text>
<text x="270.0" y="252.80" font-size="6.6" textLength="6.9" lengthAdjust="spacingAndGlyphs">14</text>
<text x="277.3" y="255.20" font-size="9.4" textLength="5.3" lengthAdjust="spacingAndGlyphs">h</text>
<text x="283.0" y="252.80" font-size="6.6" textLength="6.4" lengthAdjust="spacingAndGlyphs">−1</text>
<text x="290.4" y="255.20" font-size="9.4">M</text>
</g>
<path d="M235.1,251.00 h5.5 M235.1,253.30 h5.5" stroke="#00ff00" stroke-width="0.6" fill="none"/>
<circle cx="301.2" cy="256.20" r="1.85" fill="none" stroke="#00ff00" stroke-width="0.55"/><circle cx="301.2" cy="256.20" r="0.45" fill="#00ff00"/>
<path d="M189.7,267.9 L206.9,267.9" stroke="#0000ff" stroke-width="0.72" stroke-dasharray="11 3.5"/>
<g font-style="italic" font-family="Liberation Serif" fill="#0000ff" stroke="#0000ff" stroke-width="0.07">
<text x="212.2" y="269.75" font-size="9.4">M</text>
<text x="219.9" y="272.55" font-size="6.4" textLength="10.0" lengthAdjust="spacingAndGlyphs">cut</text>
<text x="245.9" y="269.75" font-size="8.8" textLength="6.6" lengthAdjust="spacingAndGlyphs">5</text>
<text x="252.4" y="269.75" font-size="8.8" textLength="6.6" lengthAdjust="spacingAndGlyphs">×</text>
<text x="259.2" y="269.75" font-size="8.8" textLength="10.6" lengthAdjust="spacingAndGlyphs">10</text>
<text x="270.0" y="267.35" font-size="6.6" textLength="6.9" lengthAdjust="spacingAndGlyphs">14</text>
<text x="277.3" y="269.75" font-size="9.4" textLength="5.3" lengthAdjust="spacingAndGlyphs">h</text>
<text x="283.0" y="267.35" font-size="6.6" textLength="6.4" lengthAdjust="spacingAndGlyphs">−1</text>
<text x="290.4" y="269.75" font-size="9.4">M</text>
</g>
<path d="M235.1,265.55 h5.5 M235.1,267.85 h5.5" stroke="#0000ff" stroke-width="0.6" fill="none"/>
<circle cx="301.2" cy="270.75" r="1.85" fill="none" stroke="#0000ff" stroke-width="0.55"/><circle cx="301.2" cy="270.75" r="0.45" fill="#0000ff"/>
<path d="M189.7,282.4 L206.9,282.4" stroke="#ff8000" stroke-width="0.8" stroke-dasharray="4 1.5 0.8 1.5"/>
<g font-style="italic" font-family="Liberation Serif" fill="#ff8000" stroke="#ff8000" stroke-width="0.07">
<text x="212.2" y="284.30" font-size="9.4">M</text>
<text x="219.9" y="287.10" font-size="6.4" textLength="10.0" lengthAdjust="spacingAndGlyphs">cut</text>
<text x="245.9" y="284.30" font-size="8.8" textLength="6.6" lengthAdjust="spacingAndGlyphs">1</text>
<text x="252.4" y="284.30" font-size="8.8" textLength="6.6" lengthAdjust="spacingAndGlyphs">×</text>
<text x="259.2" y="284.30" font-size="8.8" textLength="10.6" lengthAdjust="spacingAndGlyphs">10</text>
<text x="270.0" y="281.90" font-size="6.6" textLength="6.9" lengthAdjust="spacingAndGlyphs">15</text>
<text x="277.3" y="284.30" font-size="9.4" textLength="5.3" lengthAdjust="spacingAndGlyphs">h</text>
<text x="283.0" y="281.90" font-size="6.6" textLength="6.4" lengthAdjust="spacingAndGlyphs">−1</text>
<text x="290.4" y="284.30" font-size="9.4">M</text>
</g>
<path d="M235.1,280.10 h5.5 M235.1,282.40 h5.5" stroke="#ff8000" stroke-width="0.6" fill="none"/>
<circle cx="301.2" cy="285.30" r="1.85" fill="none" stroke="#ff8000" stroke-width="0.55"/><circle cx="301.2" cy="285.30" r="0.45" fill="#ff8000"/>
</svg>
</body></html>
